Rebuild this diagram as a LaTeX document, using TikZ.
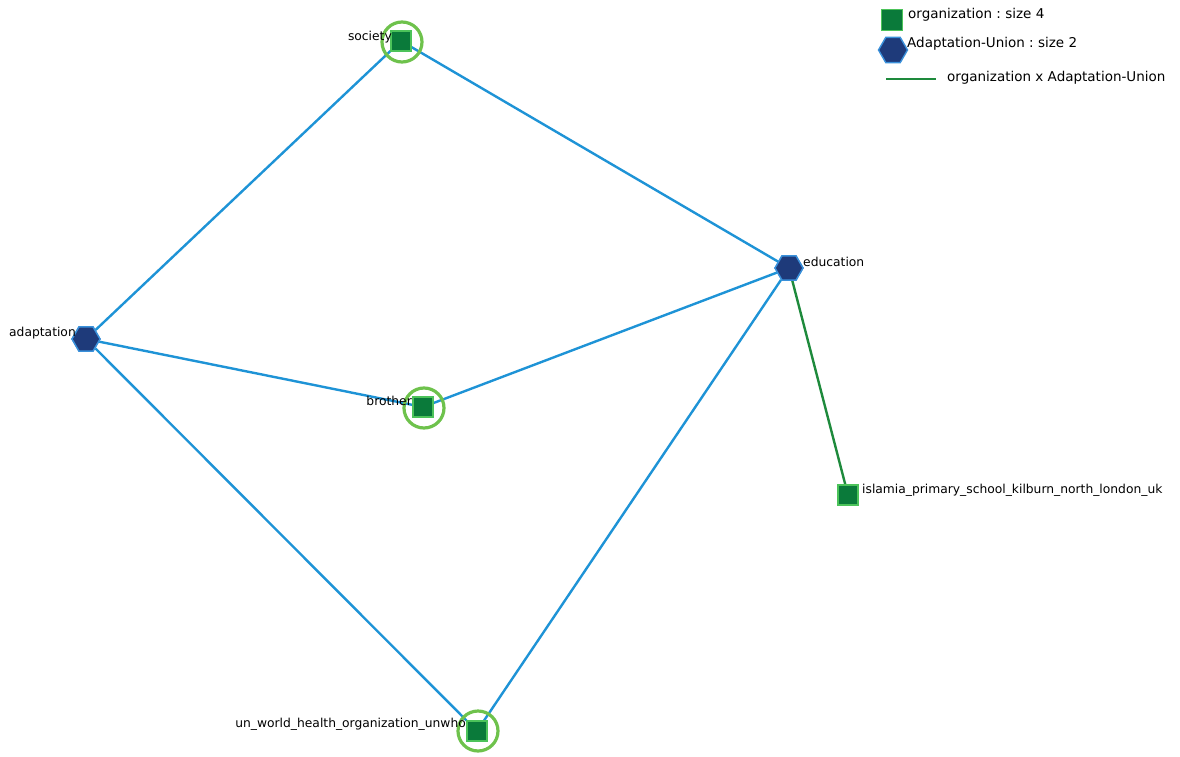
\documentclass[tikz,border=0pt]{standalone}
\usepackage{fontspec}
\setmainfont{DejaVu Sans}
\usetikzlibrary{shapes.geometric}
\definecolor{edgeblue}{HTML}{1E93D6}
\definecolor{edgegreen}{HTML}{1E8A3C}
\definecolor{sqfill}{HTML}{0A7A3A}
\definecolor{sqborder}{HTML}{4CC35A}
\definecolor{ringgreen}{HTML}{6EC24C}
\definecolor{hexfill}{HTML}{1E3A7A}
\definecolor{hexborder}{HTML}{3A90DA}
\frenchspacing
\begin{document}
\begin{tikzpicture}[x=1pt,y=-1pt,
  sq/.style={rectangle,fill=sqfill,draw=sqborder,line width=1.2pt,minimum size=20pt,inner sep=0pt},
  hexa/.style={regular polygon,regular polygon sides=6,fill=hexfill,draw=hexborder,line width=1.4pt,minimum size=28pt,inner sep=0pt},
  ring/.style={circle,draw=ringgreen,line width=3.2pt,minimum size=40pt,inner sep=0pt},
  lab/.style={font=\fontsize{12.3pt}{14pt}\selectfont,inner sep=0pt},
  leg/.style={font=\fontsize{13.5pt}{15pt}\selectfont,inner sep=0pt},
  be/.style={draw=edgeblue,line width=2.4pt},
  ge/.style={draw=edgegreen,line width=2.4pt}]
\useasboundingbox (0,0) rectangle (1180,757);
% nodes
\node[sq] (society) at (401,41) {};
\node[sq] (brother) at (423,407) {};
\node[sq] (un) at (477,731) {};
\node[sq] (islamia) at (848,495) {};
\node[hexa] (education) at (789,268) {};
\node[hexa] (adaptation) at (86,339) {};
% edges
\draw[be] (adaptation) -- (society);
\draw[be] (society) -- (education);
\draw[be] (adaptation) -- (brother);
\draw[be] (brother) -- (education);
\draw[be] (adaptation) -- (un);
\draw[be] (un) -- (education);
\draw[ge] (education) -- (islamia);
% redraw nodes on top
\node[sq] at (society) {};
\node[sq] at (brother) {};
\node[sq] at (un) {};
\node[sq] at (islamia) {};
\node[hexa] at (education) {};
\node[hexa] at (adaptation) {};
% rings
\node[ring] (rs) at (402,42) {};
\node[ring] (rb) at (424,408) {};
\node[ring] (ru) at (478,731) {};
% labels
\node[lab,anchor=east] (ls) at (392,37) {society};
\node[lab,anchor=west] (le) at (803,262) {education};
\node[lab,anchor=east] (la) at (76,333) {adaptation};
\node[lab,anchor=east] (lb) at (412,401) {brother};
\node[lab,anchor=east] (lu) at (466,724) {un\_world\_health\_organization\_unwho};
\node[lab,anchor=west] (li) at (862,490) {islamia\_primary\_school\_kilburn\_north\_london\_uk};
% legend
\node[sq,minimum size=21pt] (lg1) at (892,20) {};
\node[leg,anchor=west] (lt1) at (908,15) {organization : size 4};
\node[hexa,minimum size=29pt] (lg2) at (893,50) {};
\node[leg,anchor=west] (lt2) at (907,44) {Adaptation-Union : size 2};
\coordinate (l3a) at (886,79);
\coordinate (l3b) at (936,79);
\draw[ge] (l3a) -- (l3b);
\node[leg,anchor=west] (lt3) at (947,78) {organization x Adaptation-Union};
\end{tikzpicture}
\end{document}
